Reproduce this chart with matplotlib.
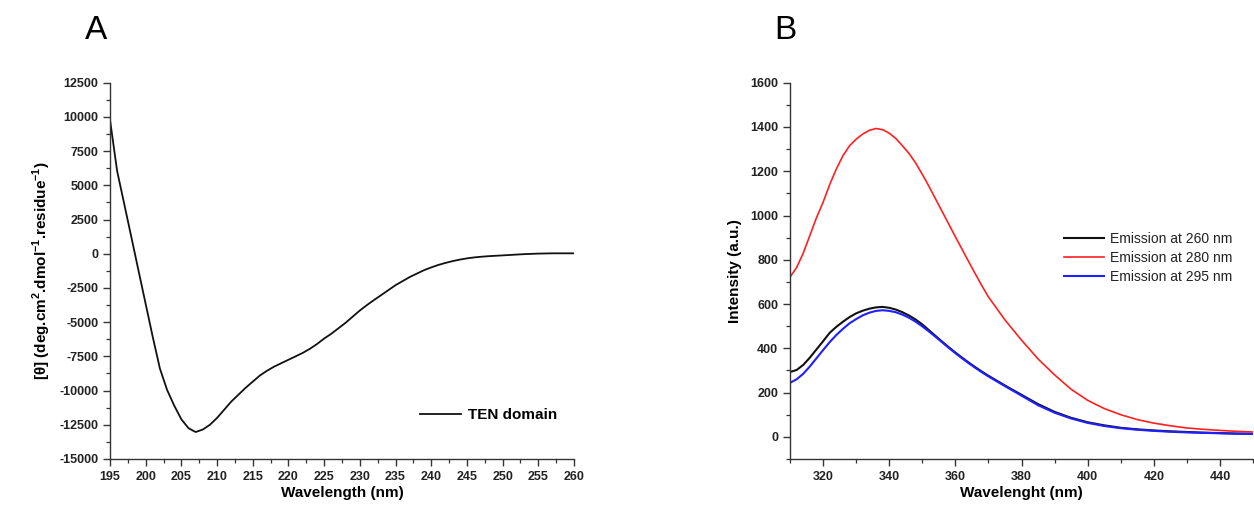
import matplotlib
matplotlib.use("Agg")
import matplotlib.pyplot as plt
from matplotlib.ticker import MultipleLocator

plt.rcParams["font.family"] = ["Liberation Sans", "DejaVu Sans"]
plt.rcParams["mathtext.fontset"] = "custom"
plt.rcParams["mathtext.rm"] = "Liberation Sans"
plt.rcParams["mathtext.bf"] = "Liberation Sans:bold"
plt.rcParams["axes.unicode_minus"] = False

# CD spectrum of the TEN domain (1 nm steps)
cd_wl = list(range(195, 261))
cd_theta = [
    9800, 6050, 3630, 1200, -1240, -3670, -6100, -8400, -9950, -11100,
    -12100, -12750, -13030, -12850, -12500, -12000, -11400, -10800, -10300, -9800,
    -9350, -8900, -8550, -8250, -8000, -7750, -7500, -7250, -6950, -6600,
    -6200, -5850, -5450, -5050, -4600, -4150, -3750, -3380, -3020, -2660,
    -2300, -2000, -1700, -1450, -1200, -1000, -820, -670, -540, -430,
    -340, -270, -220, -180, -150, -120, -90, -60, -30, -10,
    10, 20, 30, 30, 30, 30,
]

# Fluorescence emission spectra
em_wl = list(range(310, 372, 2)) + list(range(375, 451, 5))
em_260 = [
    293, 302, 325, 358, 395, 432, 470, 497, 520, 541,
    558, 570, 579, 585, 587, 583, 575, 563, 548, 530,
    508, 482, 456, 430, 405, 381, 358, 336, 315, 295, 276,
    232, 190, 148, 113, 86, 66, 52, 41, 34, 29, 25, 22, 19, 17, 15, 14,
]
em_280 = [
    722, 765, 830, 910, 990, 1060, 1140, 1210, 1270, 1315,
    1345, 1368, 1385, 1393, 1388, 1372, 1348, 1315, 1280, 1237,
    1186, 1132, 1075, 1018, 961, 904, 848, 792, 737, 683, 632,
    528, 437, 352, 280, 215, 165, 128, 100, 78, 62, 50, 40, 34, 29, 25, 22,
]
em_295 = [
    244, 260, 285, 318, 355, 392, 428, 460, 488, 513,
    532, 549, 561, 569, 572, 569, 563, 552, 538, 520,
    499, 476, 452, 427, 402, 378, 355, 333, 312, 292, 273,
    229, 186, 143, 109, 83, 63, 49, 39, 32, 27, 23, 20, 18, 16, 14, 13,
]

TICK_FS = 9
LABEL_FS = 11


def style_axes(ax):
    for side in ("top", "right"):
        ax.spines[side].set_visible(False)
    for side in ("left", "bottom"):
        ax.spines[side].set_linewidth(1.0)
        ax.spines[side].set_color("#333333")
    ax.tick_params(which="major", direction="out", length=5, width=1.0,
                   labelsize=TICK_FS, colors="#333333")
    ax.tick_params(which="minor", direction="out", length=3, width=0.9,
                   colors="#333333")
    for lab in ax.get_xticklabels() + ax.get_yticklabels():
        lab.set_fontweight("bold")
        lab.set_color("#222222")


fig = plt.figure(figsize=(12.54, 5.08), dpi=100)

# Panel A: circular dichroism
ax_a = fig.add_axes([0.0877, 0.0965, 0.370, 0.7407])
ax_a.plot(cd_wl, cd_theta, color="#111111", lw=1.3, label="TEN domain")
ax_a.set_xlim(195, 260)
ax_a.set_ylim(-15000, 12500)
ax_a.xaxis.set_major_locator(MultipleLocator(5))
ax_a.xaxis.set_minor_locator(MultipleLocator(2.5))
ax_a.yaxis.set_major_locator(MultipleLocator(2500))
ax_a.yaxis.set_minor_locator(MultipleLocator(1250))
style_axes(ax_a)
ax_a.set_xlabel("Wavelength (nm)", fontsize=LABEL_FS, fontweight="bold", labelpad=2)
ax_a.set_ylabel(r"[θ] (deg.cm$^{\mathbf{2}}$.dmol$^{\mathbf{-1}}$.residue$^{\mathbf{-1}}$)",
                fontsize=LABEL_FS, fontweight="bold", labelpad=4)
ax_a.legend(loc="center right", bbox_to_anchor=(0.965, 0.117), frameon=False,
            prop={"size": 11, "weight": "bold"}, handlelength=2.7,
            handletextpad=0.5, borderpad=0, borderaxespad=0)
fig.text(0.077, 0.94, "A", fontsize=24, ha="center", va="center")

# Panel B: fluorescence emission
ax_b = fig.add_axes([0.630, 0.0965, 0.3692, 0.7407])
ax_b.plot(em_wl, em_260, color="#111111", lw=1.5, label="Emission at 260 nm")
ax_b.plot(em_wl, em_280, color="#ff2020", lw=1.2, label="Emission at 280 nm")
ax_b.plot(em_wl, em_295, color="#2020ff", lw=1.5, label="Emission at 295 nm")
ax_b.set_xlim(310, 450)
ax_b.set_ylim(-100, 1600)
ax_b.xaxis.set_major_locator(MultipleLocator(20))
ax_b.xaxis.set_minor_locator(MultipleLocator(10))
ax_b.yaxis.set_major_locator(MultipleLocator(200))
ax_b.yaxis.set_minor_locator(MultipleLocator(100))
style_axes(ax_b)
ax_b.set_xlabel("Wavelenght (nm)", fontsize=LABEL_FS, fontweight="bold", labelpad=2)
ax_b.set_ylabel("Intensity (a.u.)", fontsize=LABEL_FS, fontweight="bold", labelpad=6)
leg_b = ax_b.legend(loc="center right", bbox_to_anchor=(0.955, 0.534), frameon=False,
                    prop={"size": 10}, handlelength=2.9, handletextpad=0.4,
                    labelspacing=0.35, borderpad=0, borderaxespad=0)
for txt in leg_b.get_texts():
    txt.set_color("#222222")
fig.text(0.626, 0.94, "B", fontsize=24, ha="center", va="center")

fig.savefig("out.png", dpi=100, facecolor="white")
